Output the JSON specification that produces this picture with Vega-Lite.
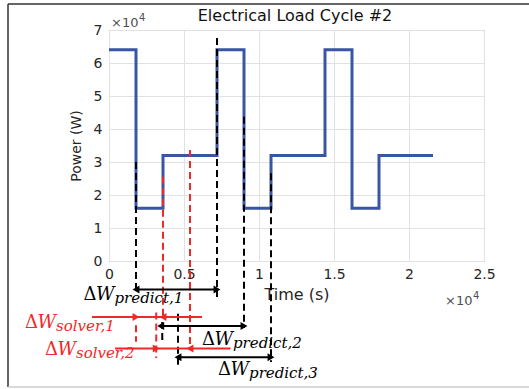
{
  "$schema": "https://vega.github.io/schema/vega-lite/v6.json",
  "width": 375,
  "height": 231,
  "autosize": {"type": "none"},
  "padding": {"left": 109, "top": 30, "right": 45, "bottom": 128},
  "background": "white",
  "config": {
    "view": {"stroke": "#707070", "strokeWidth": 1},
    "axis": {
      "labelFont": "DejaVu Sans",
      "labelFontSize": 14,
      "labelColor": "#262626",
      "labelFlush": false,
      "titleFont": "DejaVu Sans",
      "titleFontWeight": "normal",
      "titleColor": "#262626",
      "grid": true,
      "gridColor": "#e2e2e2",
      "domain": false,
      "ticks": false
    },
    "axisX": {"titleFontSize": 16, "titlePadding": 5, "labelPadding": 6, "tickCount": 5},
    "axisY": {"titleFontSize": 14, "titlePadding": 10, "labelPadding": 7, "tickCount": 7}
  },
  "datasets": {
    "frame": [
      {"x": -6733, "x2": 28000, "y": 77880, "y2": 77880, "kind": "dark"},
      {"x": -6733, "x2": -6733, "y": 77880, "y2": -38180, "kind": "dark"},
      {"x": -6733, "x2": 28000, "y": -38180, "y2": -38180, "kind": "light"}
    ],
    "heading": [
      {"x": 12400, "y": 72700, "text": "Electrical Load Cycle #2"}
    ],
    "load": [
      {"i": 1, "x": 0, "y": 64000},
      {"i": 2, "x": 1800, "y": 64000},
      {"i": 3, "x": 1800, "y": 16000},
      {"i": 4, "x": 3600, "y": 16000},
      {"i": 5, "x": 3600, "y": 32000},
      {"i": 6, "x": 7200, "y": 32000},
      {"i": 7, "x": 7200, "y": 64000},
      {"i": 8, "x": 9000, "y": 64000},
      {"i": 9, "x": 9000, "y": 16000},
      {"i": 10, "x": 10800, "y": 16000},
      {"i": 11, "x": 10800, "y": 32000},
      {"i": 12, "x": 14400, "y": 32000},
      {"i": 13, "x": 14400, "y": 64000},
      {"i": 14, "x": 16200, "y": 64000},
      {"i": 15, "x": 16200, "y": 16000},
      {"i": 16, "x": 18000, "y": 16000},
      {"i": 17, "x": 18000, "y": 32000},
      {"i": 18, "x": 21600, "y": 32000}
    ],
    "vlines": [
      {"x": 1800, "y": 30000, "y2": -9700, "kind": "predict"},
      {"x": 7200, "y": 67600, "y2": -10900, "kind": "predict"},
      {"x": 9000, "y": 43700, "y2": -20300, "kind": "predict"},
      {"x": 10800, "y": 26600, "y2": -30600, "kind": "predict"},
      {"x": 4600, "y": -16000, "y2": -31500, "kind": "predict"},
      {"x": 3550, "y": -18500, "y2": -24500, "kind": "predict"},
      {"x": 3600, "y": 25500, "y2": -17300, "kind": "solver"},
      {"x": 5400, "y": 33600, "y2": -26400, "kind": "solver"},
      {"x": 1800, "y": -19500, "y2": -24500, "kind": "solver"},
      {"x": 3150, "y": -15600, "y2": -29400, "kind": "solver"}
    ],
    "arrows": [
      {"x": 1800, "x2": 7200, "y": -8600, "kind": "predict"},
      {"x": -1130, "x2": 6200, "y": -17000, "kind": "solver"},
      {"x": 3450, "x2": 9000, "y": -19700, "kind": "predict"},
      {"x": 400, "x2": 8100, "y": -26500, "kind": "solver"},
      {"x": 4600, "x2": 10800, "y": -29200, "kind": "predict"}
    ],
    "heads": [
      {"x": 1800, "y": -8600, "dir": "left", "kind": "predict"},
      {"x": 7200, "y": -8600, "dir": "right", "kind": "predict"},
      {"x": 1800, "y": -17000, "dir": "right", "kind": "solver"},
      {"x": 3600, "y": -17000, "dir": "left", "kind": "solver"},
      {"x": 3450, "y": -19700, "dir": "left", "kind": "predict"},
      {"x": 9000, "y": -19700, "dir": "right", "kind": "predict"},
      {"x": 3150, "y": -26500, "dir": "right", "kind": "solver"},
      {"x": 5400, "y": -26500, "dir": "left", "kind": "solver"},
      {"x": 4600, "y": -29200, "dir": "left", "kind": "predict"},
      {"x": 10800, "y": -29200, "dir": "right", "kind": "predict"}
    ],
    "labels": [
      {"x": -1700, "y": -11800, "sub": "predict,1", "kind": "predict"},
      {"x": -5600, "y": -20300, "sub": "solver,1", "kind": "solver"},
      {"x": 6200, "y": -25500, "sub": "predict,2", "kind": "predict"},
      {"x": -4270, "y": -28500, "sub": "solver,2", "kind": "solver"},
      {"x": 7270, "y": -34500, "sub": "predict,3", "kind": "predict"}
    ],
    "exp": [
      {"x": 133, "y": 70900, "base": "×10", "power": "4"},
      {"x": 22400, "y": -13330, "base": "×10", "power": "4"}
    ]
  },
  "layer": [
    {
      "data": {"name": "load"},
      "mark": {"type": "line", "color": "#3a55a4", "strokeWidth": 3},
      "encoding": {
        "x": {"field": "x", "type": "quantitative", "title": "Time (s)", "scale": {"domain": [0, 25000], "nice": false},
              "axis": {"labelExpr": "datum.value / 10000"}},
        "y": {"field": "y", "type": "quantitative", "title": "Power (W)", "scale": {"domain": [0, 70000], "nice": false},
              "axis": {"labelExpr": "datum.value / 10000"}},
        "order": {"field": "i", "type": "quantitative"}
      }
    },
    {
      "data": {"name": "frame"},
      "mark": {"type": "rule", "strokeWidth": 1.5},
      "encoding": {
        "x": {"field": "x", "type": "quantitative", "title": "Time (s)", "scale": {"domain": [0, 25000], "nice": false}},
        "x2": {"field": "x2"},
        "y": {"field": "y", "type": "quantitative", "title": "Power (W)", "scale": {"domain": [0, 70000], "nice": false}},
        "y2": {"field": "y2"},
        "color": {"field": "kind", "type": "nominal", "legend": null,
                  "scale": {"domain": ["predict", "solver", "dark", "light"], "range": ["#000000", "#f02828", "#333333", "#cccccc"]}}
      }
    },
    {
      "data": {"name": "heading"},
      "mark": {"type": "text", "font": "DejaVu Sans", "fontSize": 16, "align": "center", "baseline": "alphabetic", "color": "#111111"},
      "encoding": {
        "x": {"field": "x", "type": "quantitative", "title": "Time (s)", "scale": {"domain": [0, 25000], "nice": false}},
        "y": {"field": "y", "type": "quantitative", "title": "Power (W)", "scale": {"domain": [0, 70000], "nice": false}},
        "text": {"field": "text", "type": "nominal"}
      }
    },
    {
      "data": {"name": "vlines"},
      "mark": {"type": "rule", "strokeWidth": 2, "strokeDash": [7, 4]},
      "encoding": {
        "x": {"field": "x", "type": "quantitative", "title": "Time (s)", "scale": {"domain": [0, 25000], "nice": false}},
        "y": {"field": "y", "type": "quantitative", "title": "Power (W)", "scale": {"domain": [0, 70000], "nice": false}},
        "y2": {"field": "y2"},
        "color": {"field": "kind", "type": "nominal", "legend": null,
                  "scale": {"domain": ["predict", "solver", "dark", "light"], "range": ["#000000", "#f02828", "#333333", "#cccccc"]}}
      }
    },
    {
      "data": {"name": "arrows"},
      "mark": {"type": "rule", "strokeWidth": 2},
      "encoding": {
        "x": {"field": "x", "type": "quantitative", "title": "Time (s)", "scale": {"domain": [0, 25000], "nice": false}},
        "x2": {"field": "x2"},
        "y": {"field": "y", "type": "quantitative", "title": "Power (W)", "scale": {"domain": [0, 70000], "nice": false}},
        "color": {"field": "kind", "type": "nominal", "legend": null,
                  "scale": {"domain": ["predict", "solver", "dark", "light"], "range": ["#000000", "#f02828", "#333333", "#cccccc"]}}
      }
    },
    {
      "data": {"name": "heads"},
      "transform": [{"filter": "datum.dir === 'right'"}],
      "mark": {"type": "point", "shape": "triangle-right", "filled": true, "opacity": 1, "size": 64, "dx": -4},
      "encoding": {
        "x": {"field": "x", "type": "quantitative", "title": "Time (s)", "scale": {"domain": [0, 25000], "nice": false}},
        "y": {"field": "y", "type": "quantitative", "title": "Power (W)", "scale": {"domain": [0, 70000], "nice": false}},
        "color": {"field": "kind", "type": "nominal", "legend": null,
                  "scale": {"domain": ["predict", "solver", "dark", "light"], "range": ["#000000", "#f02828", "#333333", "#cccccc"]}}
      }
    },
    {
      "data": {"name": "heads"},
      "transform": [{"filter": "datum.dir === 'left'"}],
      "mark": {"type": "point", "shape": "triangle-left", "filled": true, "opacity": 1, "size": 64, "dx": 4},
      "encoding": {
        "x": {"field": "x", "type": "quantitative", "title": "Time (s)", "scale": {"domain": [0, 25000], "nice": false}},
        "y": {"field": "y", "type": "quantitative", "title": "Power (W)", "scale": {"domain": [0, 70000], "nice": false}},
        "color": {"field": "kind", "type": "nominal", "legend": null,
                  "scale": {"domain": ["predict", "solver", "dark", "light"], "range": ["#000000", "#f02828", "#333333", "#cccccc"]}}
      }
    },
    {
      "data": {"name": "labels"},
      "mark": {"type": "text", "text": "Δ", "font": "DejaVu Serif", "fontSize": 18, "align": "left", "baseline": "alphabetic"},
      "encoding": {
        "x": {"field": "x", "type": "quantitative", "title": "Time (s)", "scale": {"domain": [0, 25000], "nice": false}},
        "y": {"field": "y", "type": "quantitative", "title": "Power (W)", "scale": {"domain": [0, 70000], "nice": false}},
        "color": {"field": "kind", "type": "nominal", "legend": null,
                  "scale": {"domain": ["predict", "solver", "dark", "light"], "range": ["#000000", "#f02828", "#333333", "#cccccc"]}}
      }
    },
    {
      "data": {"name": "labels"},
      "mark": {"type": "text", "text": "W", "font": "DejaVu Serif", "fontStyle": "italic", "fontSize": 18, "align": "left", "baseline": "alphabetic", "dx": 12.5},
      "encoding": {
        "x": {"field": "x", "type": "quantitative", "title": "Time (s)", "scale": {"domain": [0, 25000], "nice": false}},
        "y": {"field": "y", "type": "quantitative", "title": "Power (W)", "scale": {"domain": [0, 70000], "nice": false}},
        "color": {"field": "kind", "type": "nominal", "legend": null,
                  "scale": {"domain": ["predict", "solver", "dark", "light"], "range": ["#000000", "#f02828", "#333333", "#cccccc"]}}
      }
    },
    {
      "data": {"name": "labels"},
      "mark": {"type": "text", "font": "DejaVu Serif", "fontStyle": "italic", "fontSize": 15, "align": "left", "baseline": "alphabetic", "dx": 31, "dy": 3},
      "encoding": {
        "x": {"field": "x", "type": "quantitative", "title": "Time (s)", "scale": {"domain": [0, 25000], "nice": false}},
        "y": {"field": "y", "type": "quantitative", "title": "Power (W)", "scale": {"domain": [0, 70000], "nice": false}},
        "text": {"field": "sub", "type": "nominal"},
        "color": {"field": "kind", "type": "nominal", "legend": null,
                  "scale": {"domain": ["predict", "solver", "dark", "light"], "range": ["#000000", "#f02828", "#333333", "#cccccc"]}}
      }
    },
    {
      "data": {"name": "exp"},
      "mark": {"type": "text", "font": "DejaVu Sans", "fontSize": 13, "align": "left", "baseline": "alphabetic", "color": "#505050"},
      "encoding": {
        "x": {"field": "x", "type": "quantitative", "title": "Time (s)", "scale": {"domain": [0, 25000], "nice": false}},
        "y": {"field": "y", "type": "quantitative", "title": "Power (W)", "scale": {"domain": [0, 70000], "nice": false}},
        "text": {"field": "base", "type": "nominal"}
      }
    },
    {
      "data": {"name": "exp"},
      "mark": {"type": "text", "font": "DejaVu Sans", "fontSize": 10, "align": "left", "baseline": "alphabetic", "color": "#505050", "dx": 28, "dy": -6},
      "encoding": {
        "x": {"field": "x", "type": "quantitative", "title": "Time (s)", "scale": {"domain": [0, 25000], "nice": false}},
        "y": {"field": "y", "type": "quantitative", "title": "Power (W)", "scale": {"domain": [0, 70000], "nice": false}},
        "text": {"field": "power", "type": "nominal"}
      }
    }
  ]
}
